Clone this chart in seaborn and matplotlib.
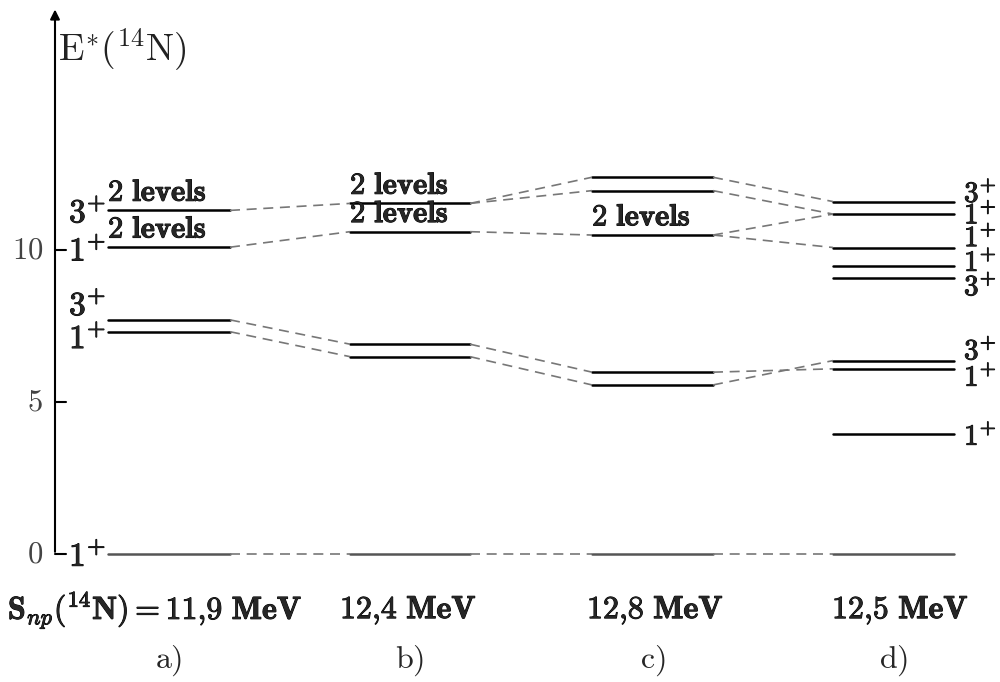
import numpy as np
import pandas as pd
import matplotlib
matplotlib.use("Agg")
import matplotlib.pyplot as plt
import matplotlib.patheffects as pe
import seaborn as sns

# excitation energies (MeV) per calculation a)..d)
levels_a = [0.0, 7.31, 7.70, 10.09, 11.30]
levels_b = [0.0, 6.49, 6.90, 10.60, 11.53]
levels_c = [0.0, 5.56, 5.98, 10.49, 11.95, 12.39]
levels_d = [0.0, 3.95, 6.09, 6.36, 9.07, 9.47, 10.08, 11.18, 11.59]

spins_a = ["1", "1", "3", "1", "3"]
spins_d = ["", "1", "1", "3", "3", "1", "1", "1", "3"]

# levels marked "2 levels"
two_levels = {"a": [10.09, 11.30], "b": [10.60, 11.53], "c": [10.49]}

# dashed correlation lines between neighbouring columns
links_ab = [(0.0, 0.0), (7.31, 6.49), (7.70, 6.90), (10.09, 10.60), (11.30, 11.53)]
links_bc = [(0.0, 0.0), (6.49, 5.56), (6.90, 5.98), (10.60, 10.49), (11.53, 11.95), (11.53, 12.39)]
links_cd = [(0.0, 0.0), (5.56, 6.36), (5.98, 6.09), (10.49, 10.08), (10.49, 11.18),
            (11.95, 11.18), (12.39, 11.59)]

snp_labels = [r"$\mathbf{S}_{np}(^{14}\mathbf{N}){=}\mathbf{11{,}9\ MeV}$",
              r"$\mathbf{12{,}4\ MeV}$", r"$\mathbf{12{,}8\ MeV}$", r"$\mathbf{12{,}5\ MeV}$"]
panel_labels = ["a)", "b)", "c)", "d)"]
yticks = [0, 5, 10]

sns.set_theme(style="white")
plt.rcParams["mathtext.fontset"] = "cm"
plt.rcParams["font.family"] = ["DejaVu Serif"]

bold = [pe.withStroke(linewidth=0.7, foreground="black")]

# column extents (layout)
cols = {"a": (108, 230), "b": (350, 470), "c": (592, 713), "d": (833, 954)}
all_levels = {"a": levels_a, "b": levels_b, "c": levels_c, "d": levels_d}

fig = plt.figure(figsize=(10, 6.82), dpi=100)
ax = fig.add_axes([0, 0, 1, 1])
ax.set_xlim(0, 1000)
ax.set_ylim(-4.21, 18.22)
ax.axis("off")

# level lines
rows = []
uid = 0
for key, levs in all_levels.items():
    x0, x1 = cols[key]
    for e in levs:
        if e == 0:
            continue
        rows.append({"x": x0, "E": e, "u": uid})
        rows.append({"x": x1, "E": e, "u": uid})
        uid += 1
lev_df = pd.DataFrame(rows)
sns.lineplot(data=lev_df, x="x", y="E", units="u", estimator=None, color="black",
             lw=1.8, ax=ax, legend=False)

# ground state lines (grey)
rows = []
for i, (key, (x0, x1)) in enumerate(cols.items()):
    rows.append({"x": x0, "E": 0.0, "u": i})
    rows.append({"x": x1, "E": 0.0, "u": i})
gs_df = pd.DataFrame(rows)
sns.lineplot(data=gs_df, x="x", y="E", units="u", estimator=None, color="#555555",
             lw=1.8, ax=ax, legend=False)

# dashed connectors
rows = []
uid = 0
for (l, r), links in zip([("a", "b"), ("b", "c"), ("c", "d")], [links_ab, links_bc, links_cd]):
    for e0, e1 in links:
        rows.append({"x": cols[l][1], "E": e0, "u": uid})
        rows.append({"x": cols[r][0], "E": e1, "u": uid})
        uid += 1
link_df = pd.DataFrame(rows)
sns.lineplot(data=link_df, x="x", y="E", units="u", estimator=None, color="#777777",
             lw=1.2, ax=ax, legend=False, linestyle=(0, (6, 4)))

# vertical axis with arrow and ticks
ax.annotate("", xy=(55, 18.0), xytext=(55, -0.02),
            arrowprops=dict(arrowstyle="-|>", lw=1.5, color="black", mutation_scale=14))
for t in yticks:
    ax.plot([55, 66], [t, t], color="black", lw=1.5)
    ax.text(43, t, r"$%d$" % t, ha="right", va="center", fontsize=22, color="#444444")
ax.text(58, 16.6, r"$\mathrm{E^{*}(^{14}N)}$", ha="left", va="center", fontsize=27,
        color="#222222")

# spin labels, column a (left side)
offs_a = {0.0: -0.1, 7.31: -0.25, 7.70: 0.45, 10.09: -0.15, 11.30: -0.1}
for e, s in zip(levels_a, spins_a):
    ax.text(106, e + offs_a[e], r"$\mathbf{%s}^{+}$" % s, ha="right", va="center",
            fontsize=24, path_effects=bold)

# spin labels, column d (right side), nudged apart like the original
offs_d = {3.95: -0.1, 6.09: -0.3, 6.36: 0.3, 9.07: -0.3, 9.47: 0.1,
          10.08: 0.3, 11.18: -0.05, 11.59: 0.25}
for e, s in zip(levels_d, spins_d):
    if not s:
        continue
    ax.text(964, e + offs_d[e], r"$\mathbf{%s}^{+}$" % s, ha="left", va="center",
            fontsize=21, path_effects=bold)

# "2 levels" tags
for key, es in two_levels.items():
    x0 = cols[key][0]
    for e in es:
        ax.text(x0, e + 0.08, r"$\mathbf{2\ levels}$", ha="left", va="bottom", fontsize=22,
                path_effects=bold)

# bottom labels
snp_x = [8, 340, 587, 832]
for x, s in zip(snp_x, snp_labels):
    ax.text(x, -1.85, s, ha="left", va="center", fontsize=23, path_effects=bold)
for key, p in zip(cols, panel_labels):
    x0, x1 = cols[key]
    ax.text((x0 + x1) / 2, -3.5, r"$\mathrm{%s}$" % p, ha="center", va="center", fontsize=23)

fig.savefig("out.png", dpi=100)
